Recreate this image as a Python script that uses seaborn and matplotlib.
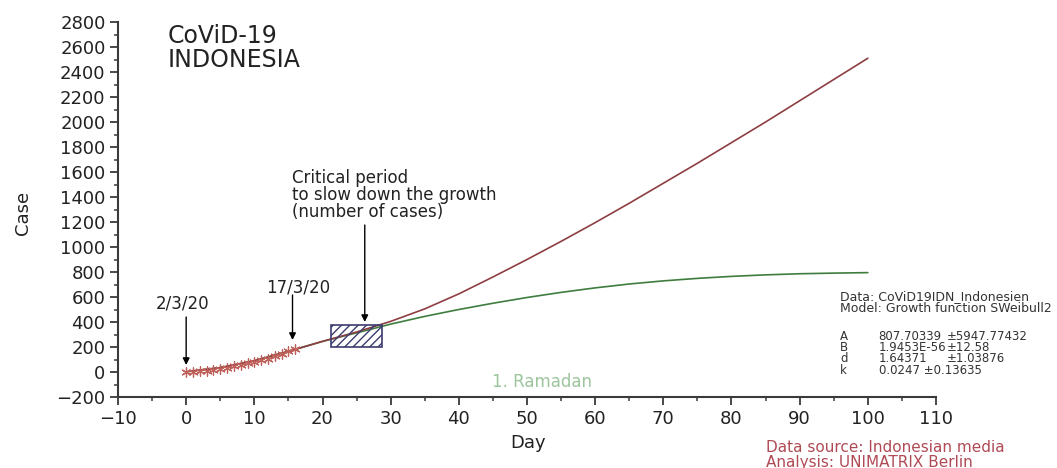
import matplotlib
matplotlib.use("Agg")
import matplotlib.pyplot as plt
from matplotlib.patches import Rectangle
from matplotlib.ticker import MultipleLocator
import seaborn as sns
import pandas as pd

# ---- data ----
fit_days = [0, 5, 10, 15, 20, 25, 30, 35, 40, 45, 50, 55, 60, 65, 70, 75, 80, 85, 90, 95, 100]
fit_red = [2, 35, 90, 165, 245, 320, 405, 505, 625, 760, 900, 1045, 1195, 1350, 1510,
           1670, 1835, 2000, 2170, 2340, 2510]
fit_green = [2, 35, 90, 165, 245, 313, 383, 445, 500, 550, 596, 637, 673, 704, 729,
             749, 765, 777, 786, 791, 795]

obs_days = [0, 1, 2, 3, 4, 5, 6, 7, 8, 9, 10, 11, 12, 13, 14, 15, 16]
obs_cases = [2, 2, 5, 8, 15, 25, 35, 45, 55, 70, 80, 95, 105, 125, 145, 165, 185]

critical_days = [21.2, 28.8]
critical_cases = [200, 376]

param_names = ["A", "B", "d", "k"]
param_values = ["807.70339", "1.9453E-56", "1.64371", "0.0247 \u00b10.13635"]
param_errors = ["\u00b15947.77432", "\u00b112.58", "\u00b11.03876", ""]

x_ticks = list(range(-10, 111, 10))
y_ticks = list(range(-200, 2801, 200))

# ---- style ----
sns.set_style("ticks")
plt.rcParams["font.family"] = ["DejaVu Sans"]
axis_col = "#3a3a3a"
txt_col = "#222222"

fig = plt.figure(figsize=(10.57, 4.68), dpi=100)
ax = fig.add_axes([118 / 1057, 71 / 468, 818 / 1057, 375 / 468])

df_fit = pd.DataFrame({"Day": fit_days, "red": fit_red, "green": fit_green})
df_obs = pd.DataFrame({"Day": obs_days, "Case": obs_cases})

sns.lineplot(data=df_fit, x="Day", y="green", color="#3f7d3f", lw=1.2, ax=ax)
sns.lineplot(data=df_fit, x="Day", y="red", color="#8e3e42", lw=1.2, ax=ax)
sns.scatterplot(data=df_obs, x="Day", y="Case", marker=(6, 2, 0), s=45,
                color="#c0605a", linewidth=0.9, ax=ax, zorder=3)

ax.set_xlim(-10, 110)
ax.set_ylim(-200, 2800)
ax.set_xticks(x_ticks)
ax.set_yticks(y_ticks)
ax.xaxis.set_minor_locator(MultipleLocator(5))
ax.yaxis.set_minor_locator(MultipleLocator(100))

for s in ["top", "right"]:
    ax.spines[s].set_visible(False)
for s in ["left", "bottom"]:
    ax.spines[s].set_color(axis_col)
    ax.spines[s].set_linewidth(1.5)

ax.tick_params(axis="both", which="major", direction="out", length=6, width=1.3,
               color=axis_col, labelsize=13, labelcolor=txt_col, pad=3)
ax.tick_params(axis="both", which="minor", direction="out", length=3, width=1.1,
               color=axis_col)

ax.set_xlabel("Day", fontsize=13, color=txt_col, va="center")
ax.xaxis.set_label_coords((528 - 118) / 818, (397 - 443) / 375)
ax.set_ylabel("Case", fontsize=13, color=txt_col, va="center")
ax.yaxis.set_label_coords((23 - 118) / 818, (397 - 213) / 375)

# critical period box
ax.add_patch(Rectangle((critical_days[0], critical_cases[0]),
                       critical_days[1] - critical_days[0],
                       critical_cases[1] - critical_cases[0],
                       facecolor="none", edgecolor="#3c3c70", hatch="////",
                       lw=1.2, zorder=2))

arrow_kw = dict(arrowstyle="-|>", color="black", lw=1.0, mutation_scale=10,
                shrinkA=0, shrinkB=0)
ax.annotate("", xy=(0, 56), xytext=(0, 440), arrowprops=arrow_kw)
ax.annotate("", xy=(15.6, 256), xytext=(15.6, 616), arrowprops=arrow_kw)
ax.annotate("", xy=(26.2, 400), xytext=(26.2, 1176), arrowprops=arrow_kw)

ax.text(-0.5, 552, "2/3/20", fontsize=12, ha="center", va="center", color=txt_col)
ax.text(16.5, 680, "17/3/20", fontsize=12, ha="center", va="center", color=txt_col)
ax.text(15.5, 1416, "Critical period\nto slow down the growth\n(number of cases)",
        fontsize=12, ha="left", va="center", linespacing=0.9, color=txt_col)

ax.text(-2.65, 2592, "CoViD-19\nINDONESIA", fontsize=17, ha="left", va="center",
        linespacing=0.95, color=txt_col)

ax.text(44.9, -80, "1. Ramadan", fontsize=12, ha="left", va="center", color="#9cc59c")

# model info
info_col = "#333333"
ax.text(95.9, 600, "Data: CoViD19IDN_Indonesien", fontsize=9, ha="left",
        va="center", color=info_col, clip_on=False)
ax.text(95.9, 510, "Model: Growth function SWeibull2", fontsize=9, ha="left",
        va="center", color=info_col, clip_on=False)
row_vals = [285, 195, 105, 15]
for name, val, err, yv in zip(param_names, param_values, param_errors, row_vals):
    ax.text(95.9, yv, name, fontsize=8.5, ha="left", va="center", color=info_col, clip_on=False)
    ax.text(101.6, yv, val, fontsize=8.5, ha="left", va="center", color=info_col, clip_on=False)
    if err:
        ax.text(111.6, yv, err, fontsize=8.5, ha="left", va="center", color=info_col, clip_on=False)

ax.text(85.1, -608, "Data source: Indonesian media", fontsize=11, ha="left",
        va="center", color="#b04a55", clip_on=False)
ax.text(85.1, -728, "Analysis: UNIMATRIX Berlin", fontsize=11, ha="left",
        va="center", color="#b04a55", clip_on=False)

fig.savefig("out.png", dpi=100)
